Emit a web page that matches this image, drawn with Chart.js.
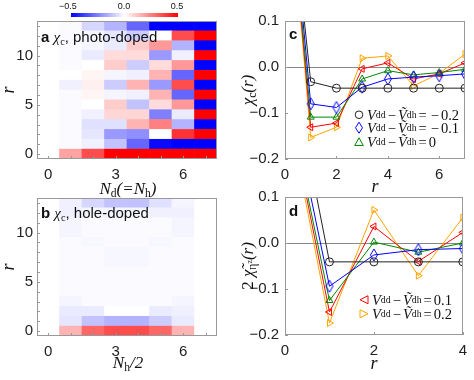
<!DOCTYPE html>
<html>
<head>
<meta charset="utf-8">
<script src="https://cdn.jsdelivr.net/npm/chart.js@4.4.1/dist/chart.umd.min.js"></script>
<style>
body{margin:0;background:#fff}
#wrap{position:relative;width:474px;height:380px;overflow:hidden;font-family:"Liberation Sans",Arial,sans-serif;color:#111}
canvas{position:absolute}
.t{position:absolute;white-space:nowrap;line-height:1}
.m{font-family:"Liberation Serif","Times New Roman",serif;font-style:italic}
.ctr{transform:translate(-50%,-50%)}
.rot{transform:translate(-50%,-50%) rotate(-90deg)}
.lab{font-size:15px;transform:translateY(-50%)}
sub{font-size:68%;vertical-align:-0.3em;font-style:normal;line-height:0}
sup{font-size:68%;vertical-align:0.4em;line-height:0}
.leg{position:absolute;white-space:nowrap;line-height:1;font-size:14.5px;transform:translateY(-50%);display:flex;align-items:center}
.leg svg{margin-right:3px}
.op{font-style:normal;margin:0 2px}
.n{font-style:normal}
#cbar{position:absolute;left:71px;top:13px;width:107px;height:4px;background:linear-gradient(to right,#0000ff,#ffffff,#ff0000)}
.cbl{font-size:9px}
</style>
</head>
<body>
<div id="wrap">
  <canvas id="pa" width="222" height="182" style="left:0;top:0"></canvas>
  <canvas id="pb" width="222" height="182" style="left:0;top:177px"></canvas>
  <canvas id="pc" width="234" height="182" style="left:240px;top:0"></canvas>
  <canvas id="pd" width="234" height="182" style="left:240px;top:176px"></canvas>

  <div id="cbar"></div>
  <div class="t cbl ctr" style="left:68px;top:6px">−0.5</div>
  <div class="t cbl ctr" style="left:124px;top:6px">0.0</div>
  <div class="t cbl ctr" style="left:177px;top:6px">0.5</div>

  <div class="t lab" style="left:41px;top:37px"><b>a</b> <span class="m">χ<sub>c</sub></span>, photo-doped</div>
  <div class="t lab" style="left:41px;top:213px"><b>b</b> <span class="m">χ<sub>c</sub></span>, hole-doped</div>
  <div class="t lab" style="left:289px;top:33px"><b>c</b></div>
  <div class="t lab" style="left:289px;top:210px"><b>d</b></div>

  <div class="t m ctr" style="left:128px;top:188px;font-size:17px">N<sub>d</sub>(=N<sub>h</sub>)</div>
  <div class="t m ctr" style="left:128px;top:362px;font-size:17px">N<sub>h</sub>/2</div>
  <div class="t m ctr" style="left:375px;top:186px;font-size:18px">r</div>
  <div class="t m ctr" style="left:374px;top:363px;font-size:18px">r</div>
  <div class="t m rot" style="left:8px;top:90px;font-size:18px">r</div>
  <div class="t m rot" style="left:8px;top:267px;font-size:18px">r</div>
  <div class="t m rot" style="left:247px;top:90px;font-size:17px">χ<sub>c</sub>(r)</div>
  <div class="t m rot" style="left:247px;top:266px;font-size:17px"><span class="n">2</span> χ&#771;<sub>η<sup>z</sup></sub>(r)</div>

  <div class="leg m" style="left:354px;top:115px"><svg width="10" height="10"><circle cx="5" cy="5" r="3.8" fill="none" stroke="#222"/></svg>V<sub>dd</sub><span class="op">−</span>Ṽ<sub>dh</sub><span class="op">=</span><span class="op">−</span><span class="n">0.2</span></div>
  <div class="leg m" style="left:354px;top:128px"><svg width="10" height="12"><polygon points="5,0.5 8.5,6 5,11.5 1.5,6" fill="none" stroke="#0000ff"/></svg>V<sub>dd</sub><span class="op">−</span>Ṽ<sub>dh</sub><span class="op">=</span><span class="op">−</span><span class="n">0.1</span></div>
  <div class="leg m" style="left:354px;top:142px"><svg width="10" height="10"><polygon points="5,1 9.3,8.8 0.7,8.8" fill="none" stroke="#008800"/></svg>V<sub>dd</sub><span class="op">−</span>Ṽ<sub>dh</sub><span class="op">=</span><span class="n">0</span></div>
  <div class="leg m" style="left:359px;top:300px"><svg width="10" height="10"><polygon points="1,5 9,1 9,9" fill="none" stroke="#ff0000"/></svg>V<sub>dd</sub><span class="op">−</span>Ṽ<sub>dh</sub><span class="op">=</span><span class="n">0.1</span></div>
  <div class="leg m" style="left:359px;top:314px"><svg width="10" height="10"><polygon points="9,5 1,1 1,9" fill="none" stroke="#ffa500"/></svg>V<sub>dd</sub><span class="op">−</span>Ṽ<sub>dh</sub><span class="op">=</span><span class="n">0.2</span></div>
</div>
<script>
// heatmap grid: columns are N (0..7), rows are r (0..13)
const cols = [0,1,2,3,4,5,6,7]
const rows = [0,1,2,3,4,5,6,7,8,9,10,11,12,13]

// chi_c(r) photo-doped, photoDoped[r][N]
const photoDoped = [
  [0, 0.18, 0.35, 0.55, 0.7, 0.8, 0.8, 0.8],
  [0, -0.01, -0.03, -0.12, -0.3, -0.48, -0.6, -0.6],
  [0, -0.01, -0.05, -0.2, -0.22, 0.0, 0.4, 0.7],
  [0, -0.01, -0.06, -0.06, 0.15, 0.25, -0.15, -0.7],
  [0, -0.01, -0.03, 0.08, 0.08, -0.25, -0.04, 0.7],
  [0, -0.01, 0.0, 0.1, -0.12, 0.07, 0.2, -0.7],
  [0, -0.01, 0.02, -0.02, -0.03, 0.15, -0.3, 0.7],
  [0, -0.03, 0.03, -0.1, 0.15, -0.2, 0.35, -0.7],
  [0, 0.0, 0.02, -0.02, -0.03, 0.15, -0.3, 0.7],
  [0, -0.01, 0.0, 0.1, -0.1, 0.07, 0.2, -0.7],
  [0, -0.01, -0.04, 0.07, 0.07, -0.2, -0.03, 0.7],
  [0, -0.01, -0.02, -0.04, 0.1, 0.2, -0.15, -0.7],
  [0, -0.01, -0.02, -0.05, -0.1, 0.0, 0.35, 0.7],
  [0, -0.01, -0.08, -0.15, -0.3, -0.5, -0.6, -0.6]
]

// chi_c(r) hole-doped, holeDoped[r][N_h/2]
const holeDoped = [
  [0, 0.15, 0.3, 0.35, 0.35, 0.3, 0.15, 0],
  [0, -0.05, -0.12, -0.15, -0.15, -0.1, -0.04, 0],
  [0, -0.04, -0.04, 0.0, 0.0, -0.04, -0.03, 0],
  [0, -0.02, -0.01, -0.01, -0.01, -0.01, -0.02, 0],
  [0, -0.01, -0.01, -0.01, -0.01, -0.01, -0.01, 0],
  [0, -0.01, -0.01, -0.01, -0.01, -0.01, -0.01, 0],
  [0, -0.01, -0.01, -0.01, -0.01, -0.01, -0.01, 0],
  [0, -0.01, -0.01, -0.015, -0.015, -0.01, -0.01, 0],
  [0, -0.01, -0.01, -0.015, -0.015, -0.01, -0.01, 0],
  [0, -0.01, -0.015, -0.01, -0.01, -0.015, -0.01, 0],
  [0, -0.02, -0.01, -0.01, -0.01, -0.01, -0.02, 0],
  [0, -0.02, -0.01, -0.01, -0.01, -0.01, -0.02, 0],
  [0, -0.03, -0.02, -0.02, -0.02, -0.03, -0.03, 0],
  [0, -0.03, -0.08, -0.12, -0.12, -0.06, -0.02, 0]
]

// panel c: chi_c(r) for V_dd - V_dh
const rC = [0,1,2,3,4,5,6,7]
const cMinus02 = [0.50, -0.032, -0.046, -0.046, -0.046, -0.046, -0.046, -0.046]
const cMinus01 = [0.52, -0.080, -0.088, -0.044, -0.026, -0.022, -0.019, -0.015]
const cZero    = [0.50, -0.109, -0.109, -0.026, -0.008, -0.017, -0.012, -0.005]
const cPlus01  = [0.50, -0.131, -0.122, -0.004, 0.009, -0.026, -0.015, 0.009]
const cPlus02  = [0.50, -0.153, -0.131, 0.019, 0.024, -0.041, -0.014, 0.028]

// panel d: 2 chi_eta(r)
const rD = [0,1,2,3,4]
const dMinus02 = [0.45, -0.041, -0.041, -0.041, -0.041]
const dMinus01 = [0.37, -0.094, -0.026, -0.0145, -0.012]
const dZero    = [0.34, -0.125, 0.002, -0.020, 0.000]
const dPlus01  = [0.335, -0.150, 0.036, -0.040, 0.023]
const dPlus02  = [0.32, -0.174, 0.072, -0.071, 0.055]

Chart.defaults.font.family = '"Liberation Sans", Arial, sans-serif'
Chart.defaults.font.size = 15
Chart.defaults.color = '#222'

// bwr colour map clipped at +-0.5
function cmap(v){
  const t = Math.min(Math.abs(v)/0.5, 1)
  const k = Math.round(255*(1-t))
  return v < 0 ? `rgb(${k},${k},255)` : `rgb(255,${k},${k})`
}

// draws the box round the plot and short inward ticks
const framePlugin = {
  id:'frame',
  afterDraw(chart){
    const a = chart.chartArea, ctx = chart.ctx
    ctx.save()
    ctx.strokeStyle = '#999'
    ctx.lineWidth = 1
    const xs = chart.scales.x, ys = chart.scales.y
    ctx.beginPath()
    xs.ticks.forEach(t=>{
      const p = Math.round(xs.getPixelForValue(t.value))+0.5
      ctx.moveTo(p, a.bottom); ctx.lineTo(p, a.bottom-3)
    })
    ys.ticks.forEach(t=>{
      const p = Math.round(ys.getPixelForValue(t.value))+0.5
      ctx.moveTo(a.left, p); ctx.lineTo(a.left+3, p)
    })
    ctx.stroke()
    ctx.strokeRect(Math.round(a.left)+0.5, Math.round(a.top)+0.5, Math.round(a.right-a.left)-1, Math.round(a.bottom-a.top)-1)
    ctx.restore()
  }
}

function heatmap(id, M){
  const datasets = rows.map(r=>({
    data: cols.map(c=>({x:c, y:[r-0.5, r+0.5]})),
    backgroundColor: cols.map(c=>cmap(M[r][c])),
    borderWidth:0,
    barPercentage:1,
    categoryPercentage:1,
    grouped:false
  }))
  return new Chart(document.getElementById(id), {
    type:'bar',
    data:{datasets},
    plugins:[framePlugin],
    options:{
      responsive:false, animation:false,
      layout:{padding:{top:21, right:5, left:0, bottom:0}},
      plugins:{legend:{display:false}, tooltip:{enabled:false}},
      scales:{
        x:{type:'linear', min:-0.5, max:7.5, offset:false,
          afterBuildTicks: s=>{ s.ticks = cols.map(v=>({value:v})) },
          afterFit: s=>{ s.height = 23 },
          grid:{display:false, drawTicks:false}, border:{display:false},
          ticks:{autoSkip:false, maxRotation:0, padding:7, callback: v => v%3===0 ? String(v) : ''}},
        y:{type:'linear', min:-0.5, max:13.5,
          afterBuildTicks: s=>{ s.ticks = rows.map(v=>({value:v})) },
          afterFit: s=>{ s.width = 37 },
          grid:{display:false, drawTicks:false}, border:{display:false},
          ticks:{autoSkip:false, padding:4, callback: v => v%5===0 ? String(v) : ''}}
      }
    }
  })
}

// tall hollow diamond used as point style
function diamond(color){
  const cv = document.createElement('canvas')
  cv.width = 10; cv.height = 14
  const g = cv.getContext('2d')
  g.strokeStyle = color; g.lineWidth = 1
  g.beginPath(); g.moveTo(5,1); g.lineTo(8.5,7); g.lineTo(5,13); g.lineTo(1.5,7); g.closePath(); g.stroke()
  return cv
}

function series(xs, ys){ return xs.map((x,i)=>({x, y:ys[i]})) }

function lineSet(xs, ys, color, style, rot){
  return {
    data: series(xs, ys), showLine:true, borderColor:color, borderWidth:1,
    pointStyle:style, pointRotation:rot||0, pointRadius:4, pointBorderWidth:1,
    pointBorderColor:color, pointBackgroundColor:'rgba(0,0,0,0)'
  }
}

function lineChart(id, xs, sets, xMax, xTicks){
  return new Chart(document.getElementById(id), {
    type:'scatter',
    data:{datasets:[
      lineSet(xs, sets[0], '#222', 'circle'),
      lineSet(xs, sets[1], '#0000ff', diamond('#0000ff')),
      lineSet(xs, sets[2], '#008800', 'triangle'),
      lineSet(xs, sets[3], '#ff0000', 'triangle', 270),
      lineSet(xs, sets[4], '#ffa500', 'triangle', 90)
    ]},
    plugins:[framePlugin],
    options:{
      responsive:false, animation:false,
      layout:{padding:{top:21, right:9, left:0, bottom:0}},
      plugins:{legend:{display:false}, tooltip:{enabled:false}},
      scales:{
        x:{type:'linear', min:0, max:xMax,
          afterBuildTicks: s=>{ s.ticks = xTicks.map(v=>({value:v})) },
          afterFit: s=>{ s.height = 23 },
          grid:{display:false, drawTicks:false}, border:{display:false},
          ticks:{autoSkip:false, maxRotation:0, padding:7}},
        y:{type:'linear', min:-0.2, max:0.1,
          afterBuildTicks: s=>{ s.ticks = [-0.2,-0.1,0,0.1].map(v=>({value:v})) },
          afterFit: s=>{ s.width = 45 },
          grid:{drawTicks:false, lineWidth:1, color: c => (c.tick && Math.abs(c.tick.value)<1e-9) ? '#888' : 'rgba(0,0,0,0)'},
          border:{display:false},
          ticks:{padding:6, callback: v => (v<-1e-9?'−':'') + Math.abs(v).toFixed(1)}}
      }
    }
  })
}

heatmap('pa', photoDoped)
heatmap('pb', holeDoped)
lineChart('pc', rC, [cMinus02, cMinus01, cZero, cPlus01, cPlus02], 7, [0,2,4,6])
lineChart('pd', rD, [dMinus02, dMinus01, dZero, dPlus01, dPlus02], 4, [0,2,4])
</script>
</body>
</html>
